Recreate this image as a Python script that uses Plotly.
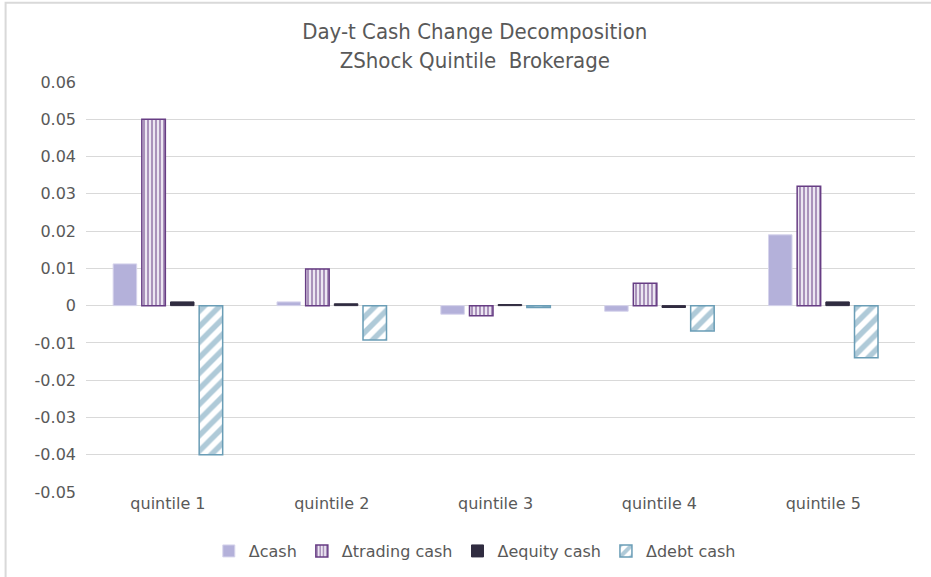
import plotly.graph_objects as go

categories = ["quintile 1", "quintile 2", "quintile 3", "quintile 4", "quintile 5"]

d_cash = [0.0112, 0.0010, -0.0023, -0.0015, 0.0190]
d_trading = [0.0500, 0.0098, -0.0027, 0.0060, 0.0320]
d_equity = [0.0010, 0.0005, 0.0003, -0.0005, 0.0010]
d_debt = [-0.0400, -0.0092, -0.0005, -0.0068, -0.0140]

tick_vals = [0.06, 0.05, 0.04, 0.03, 0.02, 0.01, 0, -0.01, -0.02, -0.03, -0.04, -0.05]
tick_text = ["0.06", "0.05", "0.04", "0.03", "0.02", "0.01", "0",
             "-0.01", "-0.02", "-0.03", "-0.04", "-0.05"]

grey = "#595959"
font_body = "'DejaVu Sans', Verdana, sans-serif"

fig = go.Figure()

fig.add_trace(go.Bar(
    name="Δcash", x=categories, y=d_cash,
    marker=dict(color="#b4b1da", line=dict(color="#d6d4ec", width=1))))

fig.add_trace(go.Bar(
    name="Δtrading cash", x=categories, y=d_trading,
    marker=dict(color="#ece6f2", line=dict(color="#673d84", width=1.5),
                pattern=dict(shape="|", fgcolor="#673d84", bgcolor="#ece6f2",
                             size=4, solidity=0.5))))

fig.add_trace(go.Bar(
    name="Δequity cash", x=categories, y=d_equity,
    marker=dict(color="#302c40", line=dict(color="#302c40", width=1))))

fig.add_trace(go.Bar(
    name="Δdebt cash", x=categories, y=d_debt,
    marker=dict(color="white", line=dict(color="#6a9db6", width=1.5),
                pattern=dict(shape="/", fgcolor="#6096b1", bgcolor="white",
                             size=11, solidity=0.5))))

fig.update_layout(
    width=931, height=577,
    barmode="group", bargap=0.3, bargroupgap=0.18,
    paper_bgcolor="white", plot_bgcolor="white",
    margin=dict(l=86, r=16, t=82, b=85, autoexpand=False),
    title=dict(
        text="Day-t Cash Change Decomposition<br>ZShock Quintile  Brokerage",
        x=0.51, xref="container", xanchor="center",
        y=0.932, yref="container", yanchor="middle",
        font=dict(family="'DejaVu Sans Condensed', 'Roboto Condensed', sans-serif",
                  size=22, color=grey)),
    font=dict(family=font_body, size=16, color=grey),
    legend=dict(orientation="h", x=0.51, xref="container", xanchor="center",
                y=0.045, yref="container", yanchor="middle",
                font=dict(size=16, color=grey), traceorder="normal",
                itemwidth=30),
    showlegend=True,
)

fig.update_xaxes(range=[-0.5, 4.56], showgrid=False, showline=False, ticks="",
                 automargin=False, tickfont=dict(size=16, color=grey))
fig.update_yaxes(range=[-0.05, 0.06], tickvals=tick_vals, ticktext=tick_text,
                 showgrid=True, gridcolor="#d9d9d9", gridwidth=1,
                 zeroline=True, zerolinecolor="#d9d9d9", zerolinewidth=1,
                 showline=False, ticks="", ticklabelstandoff=9, automargin=False,
                 tickfont=dict(size=16, color=grey))

# thin chart frame like the original (left and top edges show)
fig.add_shape(type="rect", xref="paper", yref="paper",
              x0=-0.097, x1=1.08, y0=-0.25, y1=1.193,
              line=dict(color="#d9d9d9", width=2), layer="below")

# drop the page's default body margin so the figure sits at the window origin
fig.write_html("out.html", config={"displayModeBar": False},
               post_script="document.body.style.margin='0';")
